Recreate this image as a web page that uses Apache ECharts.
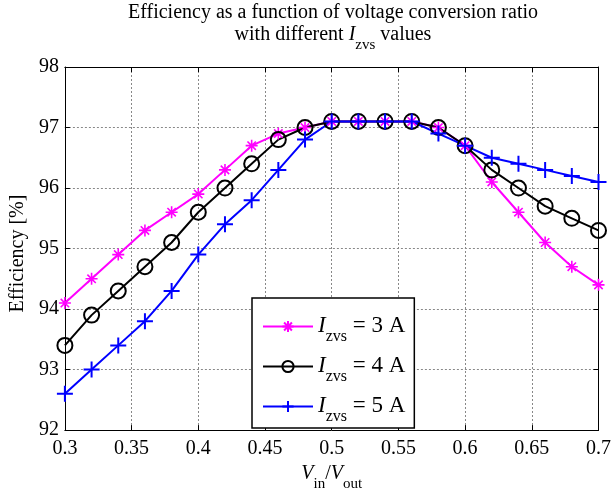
<!DOCTYPE html>
<html>
<head>
<meta charset="utf-8">
<script src="https://cdn.jsdelivr.net/npm/echarts@6/dist/echarts.min.js"></script>
<style>html,body{margin:0;padding:0;background:#fff}#c{width:614px;height:497px}</style>
</head>
<body>
<div id="c"></div>
<script>
var ratio = [0.30,0.32,0.34,0.36,0.38,0.40,0.42,0.44,0.46,0.48,0.50,0.52,0.54,0.56,0.58,0.60,0.62,0.64,0.66,0.68,0.70];
var eff3A = [94.1,94.5,94.9,95.3,95.6,95.9,96.3,96.7,96.9,97.0,97.1,97.1,97.1,97.1,97.0,96.7,96.1,95.6,95.1,94.7,94.4];
var eff4A = [93.4,93.9,94.3,94.7,95.1,95.6,96.0,96.4,96.8,97.0,97.1,97.1,97.1,97.1,97.0,96.7,96.3,96.0,95.7,95.5,95.3];
var eff5A = [92.6,93.0,93.4,93.8,94.3,94.9,95.4,95.8,96.3,96.8,97.1,97.1,97.1,97.1,96.9,96.7,96.5,96.4,96.3,96.2,96.1];
var seriesNames = ['3 A','4 A','5 A'];
var xTicks = {min:0.3, max:0.7, interval:0.05};
var yTicks = {min:92, max:98, interval:1};

function pairs(ys){ return ratio.map(function(x,i){ return [x, ys[i]]; }); }

var F = 'Liberation Serif';
function styles(size, subSize, subPad){
  return {
    a:{fontFamily:F, fontSize:size, fontWeight:'normal', color:'#000', lineHeight:size+2, verticalAlign:'top'},
    i:{fontFamily:F, fontSize:size, fontWeight:'normal', fontStyle:'italic', color:'#000', lineHeight:size+2, verticalAlign:'top'},
    s:{fontFamily:F, fontSize:subSize, fontWeight:'normal', color:'#000', lineHeight:subSize, padding:[subPad,0,0,0], verticalAlign:'top'}
  };
}

var starPath = 'path://M5,0L5,10M0,5L10,5M1.5,1.5L8.5,8.5M8.5,1.5L1.5,8.5';
var plusPath = 'path://M5,0L5,10M0,5L10,5';

var axisCommon = {
  type:'value',
  axisLine:{show:true, onZero:false, lineStyle:{color:'#000', width:1}},
  axisTick:{show:true, inside:true, length:5, lineStyle:{color:'#000'}},
  splitLine:{show:false}
};

var chart = echarts.init(document.getElementById('c'), null, {renderer:'canvas'});
chart.setOption({
  backgroundColor:'#fff',
  animation:false,
  graphic:[{
    type:'text', x:333, y:3, silent:true,
    style:{
      text:'{a|Efficiency as a function of voltage conversion ratio}\n{a|with different }{i|I}{s|zvs}{a| values}',
      align:'center', textAlign:'center',
      rich:styles(20, 15, 13)
    }
  }],
  grid:{left:63, right:11, top:67, bottom:62},
  xAxis:[
    Object.assign({}, axisCommon, {
      min:xTicks.min, max:xTicks.max, interval:xTicks.interval, position:'bottom',
      axisLabel:{fontFamily:F, fontSize:20, color:'#000', margin:9},
      splitLine:{show:true, lineStyle:{color:'#888', type:[2,2], width:1}},
      name:'{i|V}{s|in}{a|/}{i|V}{s|out}', nameLocation:'middle', nameGap:30,
      nameTextStyle:{rich:styles(20, 15, 13)}
    }),
    Object.assign({}, axisCommon, {
      min:xTicks.min, max:xTicks.max, interval:xTicks.interval, position:'top',
      axisLabel:{show:false}
    })
  ],
  yAxis:[
    Object.assign({}, axisCommon, {
      min:yTicks.min, max:yTicks.max, interval:yTicks.interval, position:'left',
      axisLabel:{fontFamily:F, fontSize:20, color:'#000', margin:6},
      splitLine:{show:true, lineStyle:{color:'#888', type:[2,2], width:1}},
      name:'Efficiency [%]', nameLocation:'middle', nameGap:36,
      nameTextStyle:{fontFamily:F, fontSize:20, color:'#000', padding:[0,10,0,0]}
    }),
    Object.assign({}, axisCommon, {
      min:yTicks.min, max:yTicks.max, interval:yTicks.interval, position:'right',
      axisLabel:{show:false}
    })
  ],
  legend:{
    orient:'vertical', left:252, top:298,
    backgroundColor:'#fff', borderColor:'#000', borderWidth:1.5, borderRadius:0,
    padding:[16,9,3,10], itemGap:9, itemWidth:50, itemHeight:14,
    data:seriesNames,
    formatter:function(n){ return '{i|I}{s|zvs}{a| = ' + n + '}'; },
    textStyle:{rich:styles(23, 16, 15)}
  },
  series:[
    {name:seriesNames[0], type:'line', data:pairs(eff3A), symbol:starPath, symbolSize:12,
     lineStyle:{color:'#ff00ff', width:2},
     itemStyle:{color:'#ff00ff', borderColor:'#ff00ff', borderWidth:1.6}},
    {name:seriesNames[1], type:'line', data:pairs(eff4A), symbol:'circle', symbolSize:15,
     lineStyle:{color:'#000', width:2},
     itemStyle:{color:'rgba(0,0,0,0)', borderColor:'#000', borderWidth:2}},
    {name:seriesNames[2], type:'line', data:pairs(eff5A), symbol:plusPath, symbolSize:16,
     lineStyle:{color:'#0000ff', width:2},
     itemStyle:{color:'#0000ff', borderColor:'#0000ff', borderWidth:2}}
  ]
});
</script>
</body>
</html>
